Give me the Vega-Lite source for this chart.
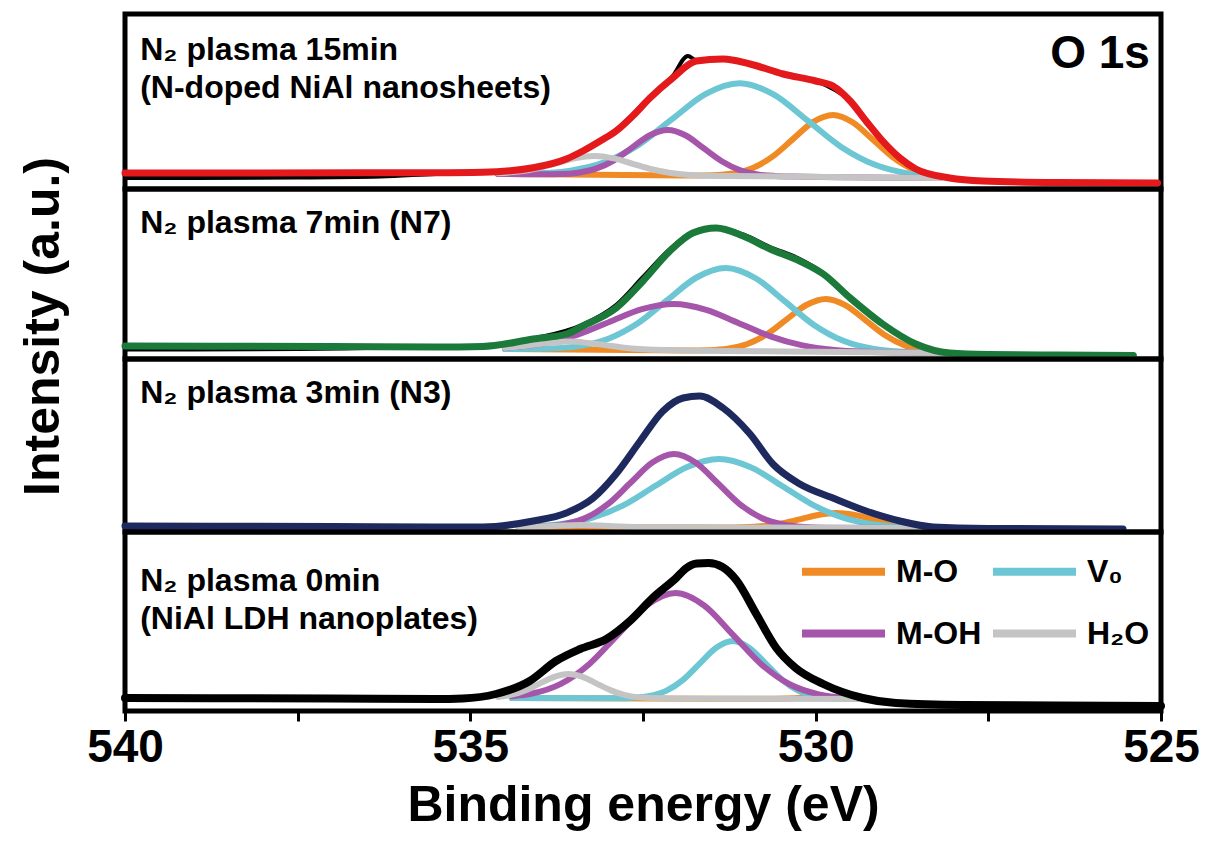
{
  "$schema": "https://vega.github.io/schema/vega-lite/v6.json",
  "background": "white",
  "padding": {"left": 15, "top": 11, "right": 5, "bottom": 5},
  "datasets": {
    "envelope": [
      {"p":1,"E":525.05,"I":6},{"p":1,"E":526.5,"I":6.5},{"p":1,"E":527.58,"I":8},{"p":1,"E":528.06,"I":11},{"p":1,"E":528.55,"I":20},{"p":1,"E":528.78,"I":31},{"p":1,"E":529.03,"I":48},{"p":1,"E":529.27,"I":68},{"p":1,"E":529.5,"I":88},{"p":1,"E":529.75,"I":103},{"p":1,"E":530.0,"I":108},{"p":1,"E":530.47,"I":115},{"p":1,"E":530.95,"I":125},{"p":1,"E":531.34,"I":130},{"p":1,"E":531.73,"I":128},{"p":1,"E":532.07,"I":111},{"p":1,"E":532.4,"I":91},{"p":1,"E":532.65,"I":73},{"p":1,"E":532.89,"I":58},{"p":1,"E":533.12,"I":48},{"p":1,"E":533.37,"I":38},{"p":1,"E":533.61,"I":30},{"p":1,"E":534.09,"I":21.3},{"p":1,"E":534.82,"I":16.8},{"p":1,"E":535.5,"I":16.3},{"p":1,"E":536.5,"I":16.2},{"p":1,"E":538,"I":16},{"p":1,"E":540,"I":16},
      {"p":2,"E":525.4,"I":3.5},{"p":2,"E":526.5,"I":4},{"p":2,"E":527.5,"I":4.5},{"p":2,"E":528.06,"I":6},{"p":2,"E":528.55,"I":15},{"p":2,"E":529.03,"I":35},{"p":2,"E":529.5,"I":61},{"p":2,"E":529.89,"I":85},{"p":2,"E":530.23,"I":98},{"p":2,"E":530.66,"I":110},{"p":2,"E":531.05,"I":123},{"p":2,"E":531.44,"I":131},{"p":2,"E":531.78,"I":126},{"p":2,"E":532.11,"I":108},{"p":2,"E":532.5,"I":78},{"p":2,"E":532.89,"I":51},{"p":2,"E":533.37,"I":33},{"p":2,"E":533.61,"I":25},{"p":2,"E":534.09,"I":20},{"p":2,"E":534.82,"I":12.5},{"p":2,"E":535.5,"I":12},{"p":2,"E":537,"I":12.5},{"p":2,"E":540,"I":13},
      {"p":3,"E":525.55,"I":3},{"p":3,"E":527.5,"I":3.5},{"p":3,"E":528.3,"I":5},{"p":3,"E":528.78,"I":11},{"p":3,"E":529.27,"I":21},{"p":3,"E":529.75,"I":34},{"p":3,"E":530.23,"I":48},{"p":3,"E":530.62,"I":68},{"p":3,"E":530.95,"I":98},{"p":3,"E":531.34,"I":124},{"p":3,"E":531.68,"I":136},{"p":3,"E":531.92,"I":134},{"p":3,"E":532.21,"I":121},{"p":3,"E":532.54,"I":91},{"p":3,"E":532.89,"I":58},{"p":3,"E":533.22,"I":34},{"p":3,"E":533.61,"I":19},{"p":3,"E":534.09,"I":11},{"p":3,"E":534.82,"I":5},{"p":3,"E":535.5,"I":5},{"p":3,"E":537,"I":5.5},{"p":3,"E":540,"I":6},
      {"p":4,"E":525,"I":5},{"p":4,"E":526.5,"I":5.5},{"p":4,"E":527.87,"I":6},{"p":4,"E":528.84,"I":8},{"p":4,"E":529.32,"I":13},{"p":4,"E":529.89,"I":27},{"p":4,"E":530.29,"I":43},{"p":4,"E":530.57,"I":63},{"p":4,"E":530.86,"I":97},{"p":4,"E":531.15,"I":131},{"p":4,"E":531.35,"I":144},{"p":4,"E":531.55,"I":148},{"p":4,"E":531.72,"I":147.5},{"p":4,"E":531.87,"I":143},{"p":4,"E":532.02,"I":133},{"p":4,"E":532.36,"I":113},{"p":4,"E":532.69,"I":90},{"p":4,"E":533.03,"I":72},{"p":4,"E":533.41,"I":62},{"p":4,"E":533.76,"I":50},{"p":4,"E":534.14,"I":30},{"p":4,"E":534.63,"I":17},{"p":4,"E":535.11,"I":12.5},{"p":4,"E":535.5,"I":12},{"p":4,"E":537,"I":12.5},{"p":4,"E":540,"I":13}
    ],
    "raw": [
      {"p":1,"E":525.05,"I":6},{"p":1,"E":527.58,"I":8},{"p":1,"E":528.06,"I":11},{"p":1,"E":528.55,"I":20},{"p":1,"E":529.03,"I":48},{"p":1,"E":529.5,"I":88},{"p":1,"E":530.0,"I":108},{"p":1,"E":530.47,"I":115},{"p":1,"E":530.95,"I":125},{"p":1,"E":531.34,"I":130.5},{"p":1,"E":531.73,"I":129},{"p":1,"E":531.85,"I":133},{"p":1,"E":532.07,"I":113},{"p":1,"E":532.4,"I":92},{"p":1,"E":532.89,"I":59},{"p":1,"E":533.37,"I":38.5},{"p":1,"E":534.09,"I":21},{"p":1,"E":534.82,"I":16.5},{"p":1,"E":535.5,"I":15},{"p":1,"E":536.3,"I":12.5},{"p":1,"E":537.5,"I":11.5},{"p":1,"E":540,"I":11},
      {"p":2,"E":525.4,"I":3.5},{"p":2,"E":528.06,"I":6},{"p":2,"E":528.55,"I":15},{"p":2,"E":529.03,"I":35},{"p":2,"E":529.5,"I":61},{"p":2,"E":529.89,"I":86},{"p":2,"E":530.23,"I":100},{"p":2,"E":530.66,"I":112},{"p":2,"E":531.05,"I":124.5},{"p":2,"E":531.44,"I":131.5},{"p":2,"E":531.78,"I":127},{"p":2,"E":532.11,"I":110},{"p":2,"E":532.5,"I":82},{"p":2,"E":532.89,"I":54},{"p":2,"E":533.37,"I":34.5},{"p":2,"E":534.09,"I":20.5},{"p":2,"E":534.82,"I":12.5},{"p":2,"E":535.5,"I":12},{"p":2,"E":536.5,"I":11},{"p":2,"E":537.5,"I":10},{"p":2,"E":540,"I":9.5},
      {"p":3,"E":525.55,"I":3},{"p":3,"E":528.3,"I":5},{"p":3,"E":528.78,"I":11},{"p":3,"E":529.27,"I":21},{"p":3,"E":529.75,"I":34},{"p":3,"E":530.23,"I":48},{"p":3,"E":530.62,"I":68},{"p":3,"E":530.95,"I":98},{"p":3,"E":531.34,"I":124},{"p":3,"E":531.68,"I":136},{"p":3,"E":531.92,"I":134},{"p":3,"E":532.21,"I":121},{"p":3,"E":532.54,"I":91},{"p":3,"E":532.89,"I":58},{"p":3,"E":533.22,"I":34},{"p":3,"E":533.61,"I":19},{"p":3,"E":534.09,"I":11},{"p":3,"E":534.82,"I":5},{"p":3,"E":535.5,"I":4},{"p":3,"E":536.5,"I":2.5},{"p":3,"E":540,"I":2}
    ],
    "components": [
      {"p":1,"c":"M-O","E":528.2,"I":12.7},{"p":1,"c":"M-O","E":528.3,"I":13.8},{"p":1,"c":"M-O","E":528.59,"I":19.6},{"p":1,"c":"M-O","E":528.88,"I":31.6},{"p":1,"c":"M-O","E":529.17,"I":49.2},{"p":1,"c":"M-O","E":529.46,"I":66.5},{"p":1,"c":"M-O","E":529.75,"I":74},{"p":1,"c":"M-O","E":530.04,"I":66.9},{"p":1,"c":"M-O","E":530.33,"I":49.9},{"p":1,"c":"M-O","E":530.62,"I":32.6},{"p":1,"c":"M-O","E":530.91,"I":21.1},{"p":1,"c":"M-O","E":531.2,"I":15.6},{"p":1,"c":"M-O","E":531.49,"I":13.8},{"p":1,"c":"M-O","E":531.78,"I":13.4},{"p":1,"c":"M-O","E":534.6,"I":15},
      {"p":1,"c":"V₀","E":528.2,"I":12.2},{"p":1,"c":"V₀","E":528.65,"I":15.4},{"p":1,"c":"V₀","E":529.14,"I":24.2},{"p":1,"c":"V₀","E":529.63,"I":42.1},{"p":1,"c":"V₀","E":530.12,"I":68.6},{"p":1,"c":"V₀","E":530.61,"I":94.6},{"p":1,"c":"V₀","E":531.1,"I":105.8},{"p":1,"c":"V₀","E":531.59,"I":95.2},{"p":1,"c":"V₀","E":532.08,"I":69.8},{"p":1,"c":"V₀","E":532.57,"I":43.9},{"p":1,"c":"V₀","E":533.06,"I":26.6},{"p":1,"c":"V₀","E":533.55,"I":18.4},{"p":1,"c":"V₀","E":534.04,"I":15.7},{"p":1,"c":"V₀","E":534.6,"I":15.2},
      {"p":1,"c":"M-OH","E":528.2,"I":11},{"p":1,"c":"M-OH","E":530.32,"I":12.4},{"p":1,"c":"M-OH","E":530.58,"I":13.0},{"p":1,"c":"M-OH","E":530.84,"I":14.65},{"p":1,"c":"M-OH","E":531.1,"I":19.0},{"p":1,"c":"M-OH","E":531.36,"I":27.8},{"p":1,"c":"M-OH","E":531.62,"I":40.7},{"p":1,"c":"M-OH","E":531.88,"I":53.5},{"p":1,"c":"M-OH","E":532.14,"I":59.0},{"p":1,"c":"M-OH","E":532.4,"I":53.8},{"p":1,"c":"M-OH","E":532.66,"I":41.4},{"p":1,"c":"M-OH","E":532.92,"I":28.7},{"p":1,"c":"M-OH","E":533.18,"I":20.3},{"p":1,"c":"M-OH","E":533.44,"I":16.3},{"p":1,"c":"M-OH","E":533.7,"I":14.9},{"p":1,"c":"M-OH","E":533.96,"I":14.7},{"p":1,"c":"M-OH","E":534.6,"I":15},
      {"p":1,"c":"H₂O","E":528.2,"I":11},{"p":1,"c":"H₂O","E":531.275,"I":13.0},{"p":1,"c":"H₂O","E":531.55,"I":13.3},{"p":1,"c":"H₂O","E":531.825,"I":14.1},{"p":1,"c":"H₂O","E":532.1,"I":16.0},{"p":1,"c":"H₂O","E":532.375,"I":19.75},{"p":1,"c":"H₂O","E":532.65,"I":25.2},{"p":1,"c":"H₂O","E":532.925,"I":30.6},{"p":1,"c":"H₂O","E":533.2,"I":33.0},{"p":1,"c":"H₂O","E":533.475,"I":31.0},{"p":1,"c":"H₂O","E":533.75,"I":25.9},{"p":1,"c":"H₂O","E":534.025,"I":20.8},{"p":1,"c":"H₂O","E":534.3,"I":17.4},{"p":1,"c":"H₂O","E":534.6,"I":15.8},
      {"p":2,"c":"M-O","E":528.1,"I":6.5},{"p":2,"c":"M-O","E":528.425,"I":8.5},{"p":2,"c":"M-O","E":528.71,"I":13.6},{"p":2,"c":"M-O","E":528.995,"I":23.8},{"p":2,"c":"M-O","E":529.28,"I":38.9},{"p":2,"c":"M-O","E":529.565,"I":53.7},{"p":2,"c":"M-O","E":529.85,"I":60.1},{"p":2,"c":"M-O","E":530.135,"I":54.0},{"p":2,"c":"M-O","E":530.42,"I":39.6},{"p":2,"c":"M-O","E":530.705,"I":24.8},{"p":2,"c":"M-O","E":530.99,"I":15.0},{"p":2,"c":"M-O","E":531.275,"I":10.3},{"p":2,"c":"M-O","E":531.56,"I":8.8},{"p":2,"c":"M-O","E":531.845,"I":8.4},{"p":2,"c":"M-O","E":534.5,"I":10},
      {"p":2,"c":"V₀","E":528.1,"I":6},{"p":2,"c":"V₀","E":528.325,"I":6.3},{"p":2,"c":"V₀","E":528.75,"I":7.3},{"p":2,"c":"V₀","E":529.175,"I":10.3},{"p":2,"c":"V₀","E":529.6,"I":18.2},{"p":2,"c":"V₀","E":530.025,"I":34.1},{"p":2,"c":"V₀","E":530.45,"I":57.8},{"p":2,"c":"V₀","E":530.875,"I":81.0},{"p":2,"c":"V₀","E":531.3,"I":91},{"p":2,"c":"V₀","E":531.725,"I":81.5},{"p":2,"c":"V₀","E":532.15,"I":58.9},{"p":2,"c":"V₀","E":532.575,"I":35.7},{"p":2,"c":"V₀","E":533.0,"I":20.3},{"p":2,"c":"V₀","E":533.425,"I":12.9},{"p":2,"c":"V₀","E":533.85,"I":10.5},{"p":2,"c":"V₀","E":534.275,"I":10.1},{"p":2,"c":"V₀","E":534.5,"I":10},
      {"p":2,"c":"M-OH","E":528.1,"I":6},{"p":2,"c":"M-OH","E":528.795,"I":6.5},{"p":2,"c":"M-OH","E":529.26,"I":7.2},{"p":2,"c":"M-OH","E":529.725,"I":9.0},{"p":2,"c":"M-OH","E":530.19,"I":13.6},{"p":2,"c":"M-OH","E":530.655,"I":22.7},{"p":2,"c":"M-OH","E":531.12,"I":36.1},{"p":2,"c":"M-OH","E":531.585,"I":49.2},{"p":2,"c":"M-OH","E":532.05,"I":55.0},{"p":2,"c":"M-OH","E":532.515,"I":49.8},{"p":2,"c":"M-OH","E":532.98,"I":37.3},{"p":2,"c":"M-OH","E":533.445,"I":24.4},{"p":2,"c":"M-OH","E":533.91,"I":15.9},{"p":2,"c":"M-OH","E":534.375,"I":11.9},{"p":2,"c":"M-OH","E":534.5,"I":11.4},
      {"p":2,"c":"H₂O","E":528.1,"I":6},{"p":2,"c":"H₂O","E":531.8,"I":8.3},{"p":2,"c":"H₂O","E":532.55,"I":9.9},{"p":2,"c":"H₂O","E":532.8,"I":11.5},{"p":2,"c":"H₂O","E":533.05,"I":13.9},{"p":2,"c":"H₂O","E":533.3,"I":16.1},{"p":2,"c":"H₂O","E":533.55,"I":17.4},{"p":2,"c":"H₂O","E":533.8,"I":16.6},{"p":2,"c":"H₂O","E":534.05,"I":14.6},{"p":2,"c":"H₂O","E":534.3,"I":12.5},{"p":2,"c":"H₂O","E":534.5,"I":11.3},
      {"p":3,"c":"M-O","E":528.5,"I":4.7},{"p":3,"c":"M-O","E":528.95,"I":8.8},{"p":3,"c":"M-O","E":529.2,"I":13.1},{"p":3,"c":"M-O","E":529.45,"I":17.2},{"p":3,"c":"M-O","E":529.7,"I":19.0},{"p":3,"c":"M-O","E":529.95,"I":17.3},{"p":3,"c":"M-O","E":530.2,"I":13.2},{"p":3,"c":"M-O","E":530.45,"I":9.1},{"p":3,"c":"M-O","E":530.7,"I":6.3},{"p":3,"c":"M-O","E":530.95,"I":5.0},{"p":3,"c":"M-O","E":531.2,"I":4.6},{"p":3,"c":"M-O","E":534.3,"I":5.0},
      {"p":3,"c":"V₀","E":528.5,"I":4.4},{"p":3,"c":"V₀","E":528.8,"I":5.25},{"p":3,"c":"V₀","E":529.1,"I":7.05},{"p":3,"c":"V₀","E":529.56,"I":13.4},{"p":3,"c":"V₀","E":530.02,"I":26.4},{"p":3,"c":"V₀","E":530.48,"I":45.8},{"p":3,"c":"V₀","E":530.94,"I":64.8},{"p":3,"c":"V₀","E":531.4,"I":73.0},{"p":3,"c":"V₀","E":531.86,"I":65.0},{"p":3,"c":"V₀","E":532.32,"I":46.2},{"p":3,"c":"V₀","E":532.78,"I":26.9},{"p":3,"c":"V₀","E":533.24,"I":14.1},{"p":3,"c":"V₀","E":533.7,"I":7.9},{"p":3,"c":"V₀","E":534.16,"I":5.7},{"p":3,"c":"V₀","E":534.3,"I":5.5},
      {"p":3,"c":"M-OH","E":528.5,"I":3.9},{"p":3,"c":"M-OH","E":529.845,"I":4.35},{"p":3,"c":"M-OH","E":530.16,"I":5.05},{"p":3,"c":"M-OH","E":530.475,"I":7.5},{"p":3,"c":"M-OH","E":530.79,"I":14.3},{"p":3,"c":"M-OH","E":531.105,"I":28.2},{"p":3,"c":"M-OH","E":531.42,"I":49.0},{"p":3,"c":"M-OH","E":531.735,"I":69.3},{"p":3,"c":"M-OH","E":532.05,"I":78.0},{"p":3,"c":"M-OH","E":532.365,"I":69.4},{"p":3,"c":"M-OH","E":532.68,"I":49.2},{"p":3,"c":"M-OH","E":532.995,"I":28.6},{"p":3,"c":"M-OH","E":533.31,"I":14.7},{"p":3,"c":"M-OH","E":533.625,"I":8.1},{"p":3,"c":"M-OH","E":533.94,"I":5.7},{"p":3,"c":"M-OH","E":534.255,"I":5.1},{"p":3,"c":"M-OH","E":534.3,"I":5.0},
      {"p":3,"c":"H₂O","E":528.5,"I":4.0},{"p":3,"c":"H₂O","E":532.5,"I":4.7},{"p":3,"c":"H₂O","E":533.0,"I":6.0},{"p":3,"c":"H₂O","E":533.4,"I":7.0},{"p":3,"c":"H₂O","E":533.8,"I":6.0},{"p":3,"c":"H₂O","E":534.3,"I":5.0},
      {"p":4,"c":"M-O","E":529.4,"I":12.0},{"p":4,"c":"M-O","E":529.7,"I":12.6},{"p":4,"c":"M-O","E":530.0,"I":14.5},{"p":4,"c":"M-O","E":530.3,"I":12.8},{"p":4,"c":"M-O","E":530.6,"I":12.3},{"p":4,"c":"M-O","E":534.4,"I":13.0},
      {"p":4,"c":"V₀","E":529.4,"I":12.0},{"p":4,"c":"V₀","E":529.52,"I":12.1},{"p":4,"c":"V₀","E":529.76,"I":12.7},{"p":4,"c":"V₀","E":530.0,"I":14.6},{"p":4,"c":"V₀","E":530.24,"I":20.0},{"p":4,"c":"V₀","E":530.48,"I":30.9},{"p":4,"c":"V₀","E":530.72,"I":47.2},{"p":4,"c":"V₀","E":530.96,"I":63.1},{"p":4,"c":"V₀","E":531.2,"I":70.0},{"p":4,"c":"V₀","E":531.44,"I":63.2},{"p":4,"c":"V₀","E":531.68,"I":47.4},{"p":4,"c":"V₀","E":531.92,"I":31.2},{"p":4,"c":"V₀","E":532.16,"I":20.4},{"p":4,"c":"V₀","E":532.4,"I":15.1},{"p":4,"c":"V₀","E":532.64,"I":13.3},{"p":4,"c":"V₀","E":532.88,"I":12.8},{"p":4,"c":"V₀","E":534.4,"I":13.0},
      {"p":4,"c":"M-OH","E":529.4,"I":12.7},{"p":4,"c":"M-OH","E":529.54,"I":13.2},{"p":4,"c":"M-OH","E":529.955,"I":16.7},{"p":4,"c":"M-OH","E":530.37,"I":26.5},{"p":4,"c":"M-OH","E":530.785,"I":46.6},{"p":4,"c":"M-OH","E":531.2,"I":76.4},{"p":4,"c":"M-OH","E":531.615,"I":105.5},{"p":4,"c":"M-OH","E":532.03,"I":118.0},{"p":4,"c":"M-OH","E":532.445,"I":105.7},{"p":4,"c":"M-OH","E":532.86,"I":76.7},{"p":4,"c":"M-OH","E":533.275,"I":47.1},{"p":4,"c":"M-OH","E":533.69,"I":27.2},{"p":4,"c":"M-OH","E":534.105,"I":17.5},{"p":4,"c":"M-OH","E":534.4,"I":14.8},
      {"p":4,"c":"H₂O","E":529.4,"I":12.0},{"p":4,"c":"H₂O","E":532.145,"I":12.6},{"p":4,"c":"H₂O","E":532.35,"I":12.9},{"p":4,"c":"H₂O","E":532.555,"I":13.7},{"p":4,"c":"H₂O","E":532.76,"I":15.9},{"p":4,"c":"H₂O","E":532.965,"I":20.6},{"p":4,"c":"H₂O","E":533.17,"I":27.4},{"p":4,"c":"H₂O","E":533.375,"I":34.2},{"p":4,"c":"H₂O","E":533.58,"I":37.0},{"p":4,"c":"H₂O","E":533.785,"I":34.2},{"p":4,"c":"H₂O","E":533.99,"I":27.6},{"p":4,"c":"H₂O","E":534.195,"I":20.8},{"p":4,"c":"H₂O","E":534.4,"I":16.3},{"p":4,"c":"H₂O","E":534.6,"I":14.1}
    ]
  },
  "spacing": 0,
  "bounds": "flush",
  "resolve": {"scale": {"y": "independent", "color": "independent"}},
  "vconcat": [
    {
      "width": 1036, "height": 175,
      "layer": [
        {"data": {"name": "components"}, "transform": [{"filter": "datum.p === 1"}],
         "mark": {"type": "line", "interpolate": "monotone", "strokeWidth": 6, "strokeCap": "round"},
         "encoding": {
           "x": {"field": "E", "type": "quantitative", "scale": {"domain": [525, 540], "reverse": true, "nice": false, "zero": false}, "axis": null},
           "y": {"field": "I", "type": "quantitative", "scale": {"domain": [0, 175], "nice": false, "zero": false}, "axis": null},
           "color": {"field": "c", "type": "nominal", "scale": {"domain": ["M-O", "V₀", "M-OH", "H₂O"], "range": ["#f08a24", "#6cc6d3", "#a556aa", "#c4c4c4"]}, "legend": null}}},
        {"data": {"name": "raw"}, "transform": [{"filter": "datum.p === 1"}],
         "mark": {"type": "line", "interpolate": "monotone", "strokeWidth": 4, "color": "black"},
         "encoding": {"x": {"field": "E", "type": "quantitative"}, "y": {"field": "I", "type": "quantitative"}}},
        {"data": {"name": "envelope"}, "transform": [{"filter": "datum.p === 1"}],
         "mark": {"type": "line", "interpolate": "monotone", "strokeWidth": 7, "color": "#e3191c", "strokeCap": "round"},
         "encoding": {"x": {"field": "E", "type": "quantitative"}, "y": {"field": "I", "type": "quantitative"}}},
        {"data": {"values": [{}]},
         "mark": {"type": "text", "align": "left", "baseline": "top", "fontSize": 32, "fontWeight": "bold", "lineHeight": 38, "color": "black"},
         "encoding": {"x": {"datum": 539.78, "type": "quantitative"}, "y": {"datum": 154, "type": "quantitative"}, "text": {"value": ["N₂ plasma 15min", "(N-doped NiAl nanosheets)"]}}},
        {"data": {"values": [{}]},
         "mark": {"type": "text", "align": "right", "baseline": "top", "fontSize": 46, "fontWeight": "bold", "color": "black"},
         "encoding": {"x": {"datum": 525.16, "type": "quantitative"}, "y": {"datum": 157, "type": "quantitative"}, "text": {"value": "O 1s"}}}
      ]
    },
    {
      "width": 1036, "height": 170,
      "layer": [
        {"data": {"name": "components"}, "transform": [{"filter": "datum.p === 2"}],
         "mark": {"type": "line", "interpolate": "monotone", "strokeWidth": 6, "strokeCap": "round"},
         "encoding": {
           "x": {"field": "E", "type": "quantitative", "scale": {"domain": [525, 540], "reverse": true, "nice": false, "zero": false}, "axis": null},
           "y": {"field": "I", "type": "quantitative", "scale": {"domain": [0, 170], "nice": false, "zero": false},
                 "axis": {"title": "Intensity (a.u.)", "labels": false, "ticks": false, "domain": false, "grid": false, "titleFontSize": 50, "titleFontWeight": "bold", "titleColor": "black", "titleX": -57, "titleY": 137, "titleAngle": -90, "titleAlign": "center", "titleBaseline": "bottom"}},
           "color": {"field": "c", "type": "nominal", "scale": {"domain": ["M-O", "V₀", "M-OH", "H₂O"], "range": ["#f08a24", "#6cc6d3", "#a556aa", "#c4c4c4"]}, "legend": null}}},
        {"data": {"name": "raw"}, "transform": [{"filter": "datum.p === 2"}],
         "mark": {"type": "line", "interpolate": "monotone", "strokeWidth": 4, "color": "black"},
         "encoding": {"x": {"field": "E", "type": "quantitative"}, "y": {"field": "I", "type": "quantitative"}}},
        {"data": {"name": "envelope"}, "transform": [{"filter": "datum.p === 2"}],
         "mark": {"type": "line", "interpolate": "monotone", "strokeWidth": 7, "color": "#1b7a3a", "strokeCap": "round"},
         "encoding": {"x": {"field": "E", "type": "quantitative"}, "y": {"field": "I", "type": "quantitative"}}},
        {"data": {"values": [{}]},
         "mark": {"type": "text", "align": "left", "baseline": "top", "fontSize": 32, "fontWeight": "bold", "color": "black"},
         "encoding": {"x": {"datum": 539.78, "type": "quantitative"}, "y": {"datum": 151, "type": "quantitative"}, "text": {"value": "N₂ plasma 7min (N7)"}}}
      ]
    },
    {
      "width": 1036, "height": 173,
      "layer": [
        {"data": {"name": "components"}, "transform": [{"filter": "datum.p === 3"}],
         "mark": {"type": "line", "interpolate": "monotone", "strokeWidth": 6, "strokeCap": "round"},
         "encoding": {
           "x": {"field": "E", "type": "quantitative", "scale": {"domain": [525, 540], "reverse": true, "nice": false, "zero": false}, "axis": null},
           "y": {"field": "I", "type": "quantitative", "scale": {"domain": [0, 173], "nice": false, "zero": false}, "axis": null},
           "color": {"field": "c", "type": "nominal", "scale": {"domain": ["M-O", "V₀", "M-OH", "H₂O"], "range": ["#f08a24", "#6cc6d3", "#a556aa", "#c4c4c4"]}, "legend": null}}},
        {"data": {"name": "raw"}, "transform": [{"filter": "datum.p === 3"}],
         "mark": {"type": "line", "interpolate": "monotone", "strokeWidth": 4, "color": "black"},
         "encoding": {"x": {"field": "E", "type": "quantitative"}, "y": {"field": "I", "type": "quantitative"}}},
        {"data": {"name": "envelope"}, "transform": [{"filter": "datum.p === 3"}],
         "mark": {"type": "line", "interpolate": "monotone", "strokeWidth": 7, "color": "#1e2a5e", "strokeCap": "round"},
         "encoding": {"x": {"field": "E", "type": "quantitative"}, "y": {"field": "I", "type": "quantitative"}}},
        {"data": {"values": [{}]},
         "mark": {"type": "text", "align": "left", "baseline": "top", "fontSize": 32, "fontWeight": "bold", "color": "black"},
         "encoding": {"x": {"datum": 539.78, "type": "quantitative"}, "y": {"datum": 154, "type": "quantitative"}, "text": {"value": "N₂ plasma 3min (N3)"}}}
      ]
    },
    {
      "width": 1036, "height": 179,
      "layer": [
        {"data": {"name": "components"}, "transform": [{"filter": "datum.p === 4"}],
         "mark": {"type": "line", "interpolate": "monotone", "strokeWidth": 6, "strokeCap": "round"},
         "encoding": {
           "x": {"field": "E", "type": "quantitative", "scale": {"domain": [525, 540], "reverse": true, "nice": false, "zero": false},
                 "axis": {"values": [540, 537.5, 535, 532.5, 530, 527.5, 525], "labelExpr": "datum.value % 5 === 0 ? format(datum.value, 'd') : ''", "domain": false, "grid": false, "tickSize": 10, "tickWidth": 3, "tickColor": "black", "labelFontSize": 46, "labelFontWeight": "bold", "labelColor": "black", "labelPadding": 4, "labelFlush": false, "labelOverlap": false, "title": "Binding energy (eV)", "titleFontSize": 50, "titleFontWeight": "bold", "titleColor": "black", "titlePadding": 10}},
           "y": {"field": "I", "type": "quantitative", "scale": {"domain": [0, 179], "nice": false, "zero": false}, "axis": null},
           "color": {"field": "c", "type": "nominal", "scale": {"domain": ["M-O", "V₀", "M-OH", "H₂O"], "range": ["#f08a24", "#6cc6d3", "#a556aa", "#c4c4c4"]},
                     "legend": {"orient": "none", "legendX": 673, "legendY": -6, "direction": "horizontal", "columns": 2, "title": null, "symbolType": "stroke", "symbolSize": 6889, "symbolStrokeWidth": 8, "labelFontSize": 32, "labelFontWeight": "bold", "labelColor": "black", "labelOffset": 7, "rowPadding": -11, "columnPadding": -5}}}},
        {"data": {"name": "envelope"}, "transform": [{"filter": "datum.p === 4"}],
         "mark": {"type": "line", "interpolate": "monotone", "strokeWidth": 8, "color": "black", "strokeCap": "round"},
         "encoding": {"x": {"field": "E", "type": "quantitative"}, "y": {"field": "I", "type": "quantitative"}}},
        {"data": {"values": [{}]},
         "mark": {"type": "text", "align": "left", "baseline": "top", "fontSize": 32, "fontWeight": "bold", "lineHeight": 38, "color": "black"},
         "encoding": {"x": {"datum": 539.78, "type": "quantitative"}, "y": {"datum": 145, "type": "quantitative"}, "text": {"value": ["N₂ plasma 0min", "(NiAl LDH nanoplates)"]}}}
      ]
    }
  ],
  "config": {
    "font": "Liberation Sans",
    "view": {"stroke": "black", "strokeWidth": 5}
  }
}
